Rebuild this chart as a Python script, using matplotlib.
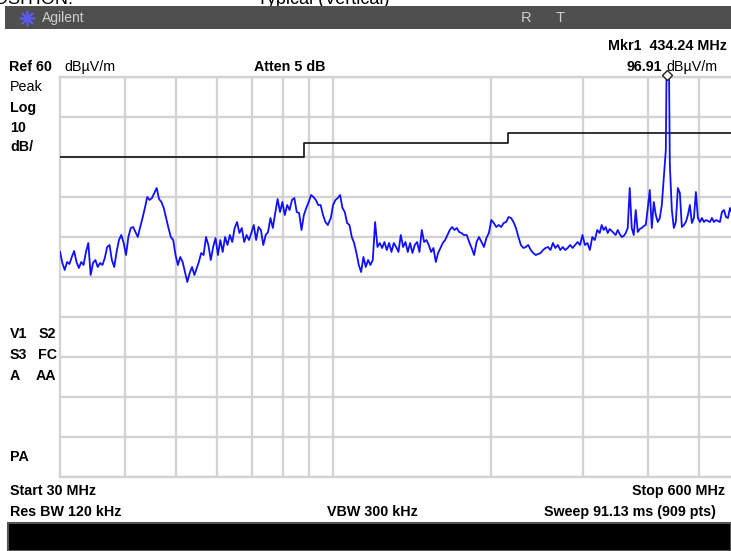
import numpy as np
import matplotlib
matplotlib.use("Agg")
import matplotlib.pyplot as plt
from matplotlib.patches import Rectangle
from matplotlib.lines import Line2D
from matplotlib.ticker import FixedLocator, NullFormatter, NullLocator

W, H = 731, 551

# trace, in sweep segments (start/stop MHz) and dBuV/m
seg_a_mhz = (30.0, 54.8)
seg_a_dbuv = [16.3, 13.5, 11.75, 13.75, 13.25, 15, 16.5, 13.75, 12.25, 13.75,
              13, 16.25, 18.5, 10.5, 13.5, 14.25, 12.5, 13.5, 13, 14.75,
              17.5, 18, 14.25, 12.5, 16.25, 19.25, 20.5, 18.5, 15.5, 20,
              22.25, 22.5, 21.25, 20, 22.5, 24.75, 27.25, 30, 29.25, 29.75,
              31, 32.25, 29.5, 28.75, 27.25, 24.75, 22.25, 20, 19.25, 15.5,
              13, 15, 13.75, 11.25, 8.75, 11, 12.5, 10.5, 12.25]
seg_b_mhz = (55.3, 97.6)
seg_b_dbuv = [13.75, 16, 15.5, 20, 18, 14.25, 17.5, 19.75, 15.5, 19.25,
              16.25, 20, 18, 20.5, 18.75, 22.25, 23.75, 21, 22.25, 18.75,
              20.5, 19.25, 21, 23, 19.25, 22.5, 21.75, 18, 20.5, 21.25,
              24.75, 22.25, 26, 29.5, 26.25, 28.75, 25.5, 28, 26.75, 29.25,
              29.75, 26.25, 26, 21.75, 25.5, 27.25, 28.75, 30.5, 30, 29.25,
              28, 28, 25.5, 23.75, 23]
seg_c_mhz = (98.9, 177.7)
seg_c_dbuv = [24.75, 28, 29.25, 29.75, 30.5, 27.25, 26.25, 23.5, 23, 20,
              18.5, 16, 13, 11.25, 15, 12.5, 14.25, 13, 14.25, 23.75,
              17.5, 18.5, 17.25, 18.75, 16.75, 18.5, 16.25, 18.5, 17.5, 16.25,
              20.5, 17.5, 18.75, 16.25, 18.5, 16, 18, 18.75, 16.25, 21.75,
              18.75, 19.25, 18, 16.25, 17.25, 13.75, 16, 17.25, 18.5, 19.25,
              20.5, 21.75, 22.5, 21.75, 22.25, 21.25, 21, 20.5]
seg_d_mhz = (180.0, 323.4)
seg_d_dbuv = [20.5, 18.75, 17.25, 15.5, 18.75, 20, 18.75, 17.5, 19.75, 21,
              24.25, 23.5, 22.5, 23, 22.5, 23.5, 23.75, 25, 24.75, 23.75,
              22.25, 20, 18, 17.25, 17.5, 18, 16.75, 16, 15.5, 15.75,
              16, 16.75, 17.25, 17.5, 16.75, 18.5, 17.25, 18, 16.75, 17.5,
              16.75, 17.25, 18, 17.25, 18, 18.75, 18, 20.5, 18, 18.5,
              16.75, 20, 19.25, 21.75, 21]
seg_e_mhz = (326.2, 600.0)
seg_e_dbuv = [23, 21.75, 22.5, 21, 22, 21.5, 21, 20.5, 21.75, 20.75,
              20, 20.25, 21, 22.25, 32.25, 22.25, 20.5, 26.75, 21.25, 22,
              22.25, 22.75, 23, 27.25, 31.75, 22.25, 28.75, 25.5, 23.75, 24.75,
              28, 34.75, 41.75, 96.91, 38, 26.75, 22.25, 23.75, 32.25, 31,
              22.5, 23, 23.75, 25.5, 28, 23.5, 24.75, 31.25, 24.75, 23.75,
              24.75, 23.75, 24.25, 24, 23.75, 24.75, 23.75, 24.25, 24, 23.75,
              26.25, 26.75, 25, 24.75, 27.25, 26, 25.25, 25.75, 25.5, 25.75]

limit_mhz = [30, 88, 216, 600]
limit_dbuv = [40.0, 43.5, 46.0, 46.0]
grid_mhz = [40, 50, 60, 70, 80, 90, 100, 200, 300, 400, 500]
start_mhz, stop_mhz = 30, 600
ref_level, db_per_div, n_div = 60, 10, 10
marker_mhz = 434.24

segments = [(seg_a_mhz, seg_a_dbuv), (seg_b_mhz, seg_b_dbuv), (seg_c_mhz, seg_c_dbuv),
            (seg_d_mhz, seg_d_dbuv), (seg_e_mhz, seg_e_dbuv)]
freq = np.concatenate([np.geomspace(f[0], f[1], len(v)) for f, v in segments])
level = np.concatenate([np.asarray(v, float) for f, v in segments])

plt.rcParams["font.family"] = ["Liberation Sans", "DejaVu Sans"]


def px(x, y):
    return x / W, 1 - y / H


fig = plt.figure(figsize=(W / 100, H / 100), dpi=100)
fig.patch.set_facecolor("white")

# plot area: x 60..740 px (right edge runs past the image), y 77..477 px
ax = fig.add_axes([60 / W, (H - 477) / H, 680 / W, 400 / H])
ax.set_xscale("log")
ax.set_xlim(start_mhz, stop_mhz)
ax.set_ylim(ref_level - n_div * db_per_div, ref_level)
ax.xaxis.set_major_locator(FixedLocator(grid_mhz))
ax.xaxis.set_minor_locator(NullLocator())
ax.xaxis.set_major_formatter(NullFormatter())
ax.yaxis.set_major_locator(FixedLocator(np.arange(ref_level - n_div * db_per_div,
                                                  ref_level + 1, db_per_div)))
ax.yaxis.set_major_formatter(NullFormatter())
ax.tick_params(length=0)
ax.grid(True, color="#d3d3d3", lw=1.7)
ax.set_axisbelow(True)
for s in ax.spines.values():
    s.set_color("#d3d3d3")
    s.set_linewidth(1.7)

ax.step(limit_mhz, limit_dbuv, where="post", color="#111111", lw=1.2, zorder=3)
ax.plot(freq, level, color="#1010ff", lw=1.3, zorder=4)
ax.plot([marker_mhz], [1.005], transform=ax.get_xaxis_transform(), marker="D",
        ms=5, mfc="white", mec="#222222", mew=1, clip_on=False, zorder=6)

# cut-off caption at the very top, hidden behind the title bar
fig.text(*px(73, 4), "POSITION:", ha="right", va="baseline", fontsize=13, zorder=1)
fig.text(*px(257, 4), "Typical (Vertical)", ha="left", va="baseline", fontsize=13, zorder=1)

# title bar
fig.add_artist(Rectangle(px(5, 29), (W - 5) / W, 23 / H, transform=fig.transFigure,
                         facecolor="#4f4f4f", edgecolor="none", zorder=5))
fig.add_artist(Line2D([27 / W], [1 - 18 / H], transform=fig.transFigure, marker=(8, 2, 0),
                      ms=11, color="#5a5aff", mew=1.2, zorder=6))
fig.text(*px(42, 18), "Agilent", ha="left", va="center", fontsize=10, color="#cfcfcf", zorder=6)
fig.text(*px(526, 18), "R", ha="center", va="center", fontsize=10.5, color="#cfcfcf", zorder=6)
fig.text(*px(560, 18), "T", ha="center", va="center", fontsize=10.5, color="#cfcfcf", zorder=6)

fs = 10.3
bold = dict(fontsize=fs, fontweight="bold", va="center")
norm = dict(fontsize=fs, va="center")

fig.text(*px(727, 46), "Mkr1  434.24 MHz", ha="right", **bold)
fig.text(*px(9, 67), "Ref 60", ha="left", **bold)
fig.text(*px(64, 67), "dB\u00b5V/m", ha="left", **norm)
fig.text(*px(254, 67), "Atten 5 dB", ha="left", **bold)
fig.text(*px(666, 67), "dB\u00b5V/m", ha="left", **norm)
fig.text(*px(662, 67), "96.91", ha="right", **bold)

fig.text(*px(10, 87), "Peak", ha="left", **norm)
fig.text(*px(10, 108), "Log", ha="left", **bold)
fig.text(*px(10, 128), "10", ha="left", **bold)
fig.text(*px(10, 147), "dB/", ha="left", **bold)

fig.text(*px(10, 334), "V1", ha="left", **bold)
fig.text(*px(39, 334), "S2", ha="left", **bold)
fig.text(*px(10, 355), "S3", ha="left", **bold)
fig.text(*px(38, 355), "FC", ha="left", **bold)
fig.text(*px(10, 376), "A", ha="left", **bold)
fig.text(*px(36, 376), "AA", ha="left", **bold)
fig.text(*px(10, 457), "PA", ha="left", **bold)

fig.text(*px(10, 491), "Start 30 MHz", ha="left", **bold)
fig.text(*px(725, 491), "Stop 600 MHz", ha="right", **bold)
fig.text(*px(10, 512), "Res BW 120 kHz", ha="left", **bold)
fig.text(*px(372, 512), "VBW 300 kHz", ha="center", **bold)
fig.text(*px(716, 512), "Sweep 91.13 ms (909 pts)", ha="right", **bold)

# status bar at the bottom
fig.add_artist(Rectangle(px(8, H), (W - 8) / W, 28 / H, transform=fig.transFigure,
                         facecolor="black", edgecolor="#555555", lw=1.5, zorder=5))

fig.savefig("out.png", dpi=100)
